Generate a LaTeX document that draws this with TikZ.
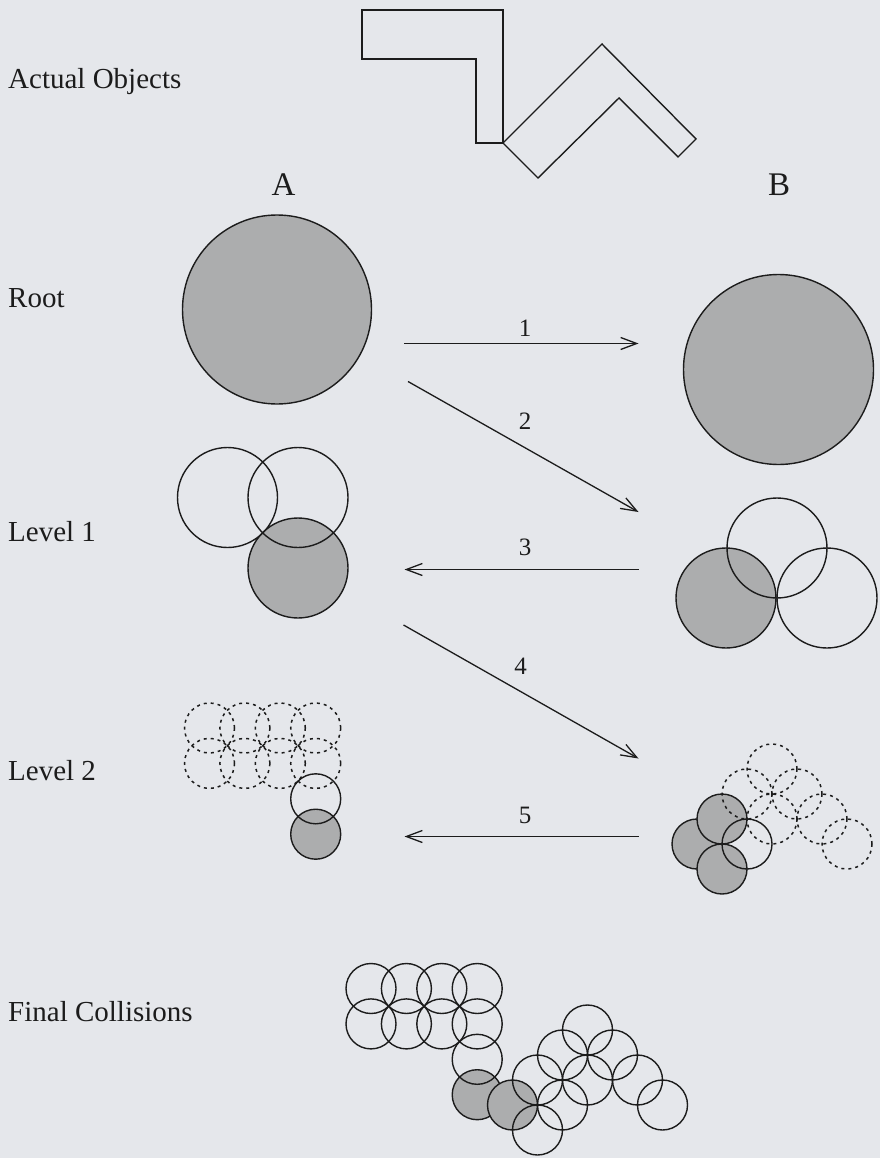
\documentclass[tikz,border=0pt]{standalone}
\usepackage{fontspec}
\setmainfont{Liberation Serif}
\usetikzlibrary{arrows.meta}
\definecolor{bgc}{RGB}{229,231,235}
\definecolor{ink}{RGB}{28,28,28}
\definecolor{shade}{RGB}{172,173,174}
\begin{document}
\begin{tikzpicture}[x=1pt,y=-1pt,
  circ/.style={circle, draw=ink, line width=1.4pt, inner sep=0pt, outer sep=0pt},
  dcirc/.style={circ, line width=1.5pt, dash pattern=on 3pt off 4pt},
  gcirc/.style={circ, fill=shade},
  lbl/.style={anchor=base west, font=\fontsize{29}{34}\selectfont, text=ink, inner sep=0pt},
  colh/.style={anchor=base, font=\fontsize{33}{38}\selectfont, text=ink, inner sep=0pt},
  num/.style={font=\fontsize{25}{30}\selectfont, text=ink, inner sep=0pt},
  arr/.style={draw=ink, line width=1.3pt, -{Straight Barb[length=16pt,width=12pt]}},
  obj/.style={draw=ink, line width=1.4pt, line join=miter}]
\fill[bgc] (0,0) rectangle (880,1158);
\useasboundingbox (0,0) rectangle (880,1158);

% labels
\node[lbl] (tact) at (8,88.5) {Actual Objects};
\node[lbl] (troot) at (8,307.5) {Root};
\node[lbl] (tl1) at (8,541.5) {Level 1};
\node[lbl] (tl2) at (8,780.5) {Level 2};
\node[lbl] (tfin) at (8,1021.5) {Final Collisions};
\node[colh] (hA) at (283.5,195.5) {A};
\node[colh] (hB) at (779,195.5) {B};

% actual objects
\draw[obj] (362,10) -- (503,10) -- (503,143) -- (476,143) -- (476,59) -- (362,59) -- cycle;
\draw[obj] (503,143) -- (602,44) -- (696,139) -- (678,157) -- (619,98) -- (538,178) -- cycle;

% root
\node[gcirc, minimum size=189pt] (rA) at (277,309.5) {};
\node[gcirc, minimum size=190pt] (rB) at (778.5,369.5) {};

% level 1 A
\node[gcirc, minimum size=100pt] (a1c) at (298,568) {};
\node[circ, minimum size=100pt] (a1a) at (227.5,497.5) {};
\node[circ, minimum size=100pt] (a1b) at (298,497.5) {};
% level 1 B
\node[gcirc, minimum size=100pt] (b1a) at (726,598) {};
\node[circ, minimum size=100pt] (b1b) at (777,548) {};
\node[circ, minimum size=100pt] (b1c) at (827,598) {};

% level 2 A
\node[gcirc, minimum size=50pt] (a2g) at ({209.5+35.4*3},{728+35.4*3}) {};
\foreach \i in {0,...,3}{
  \foreach \j in {0,1}{
    \node[dcirc, minimum size=50pt] (a2d\i\j) at ({209.5+35.4*\i},{728+35.4*\j}) {};
  }
}
\node[circ, minimum size=50pt] (a2s) at ({209.5+35.4*3},{728+35.4*2}) {};

% level 2 B
\foreach \i/\j in {0/0,1/0,0/1}{
  \node[gcirc, minimum size=50pt] (b2g\i\j) at ({697+25*\i+25*\j},{844-25*\i+25*\j}) {};
}
\node[circ, minimum size=50pt] (b2s) at ({697+50},844) {};
\foreach \i/\j in {2/0,3/0,2/1,3/1,3/2,3/3}{
  \node[dcirc, minimum size=50pt] (b2d\i\j) at ({697+25*\i+25*\j},{844-25*\i+25*\j}) {};
}

% final collisions
\node[gcirc, minimum size=50pt] (fAg) at ({371+35.4*3},{988.5+35.4*3}) {};
\node[gcirc, minimum size=50pt] (fBg) at (512.5,1105) {};
\foreach \i in {0,...,3}{
  \foreach \j in {0,1}{
    \node[circ, minimum size=50pt] (fA\i\j) at ({371+35.4*\i},{988.5+35.4*\j}) {};
  }
}
\node[circ, minimum size=50pt] (fA32) at ({371+35.4*3},{988.5+35.4*2}) {};
\foreach \i/\j in {1/0,2/0,3/0,0/1,1/1,2/1,3/1,3/2,3/3}{
  \node[circ, minimum size=50pt] (fB\i\j) at ({512.5+25*\i+25*\j},{1105-25*\i+25*\j}) {};
}

% arrows
\coordinate (p1s) at (404,343.5);  \coordinate (p1e) at (638.5,343.5);
\coordinate (p2s) at (408,381.5);  \coordinate (p2e) at (638.5,512);
\coordinate (p3s) at (638.5,569.5); \coordinate (p3e) at (404.5,569.5);
\coordinate (p4s) at (403.5,625);  \coordinate (p4e) at (638.5,758.5);
\coordinate (p5s) at (638.5,836.5); \coordinate (p5e) at (404.5,836.5);
\draw[arr] (p1s) -- (p1e);
\draw[arr] (p2s) -- (p2e);
\draw[arr] (p3s) -- (p3e);
\draw[arr] (p4s) -- (p4e);
\draw[arr] (p5s) -- (p5e);
\node[num] (n1) at (525,328) {1};
\node[num] (n2) at (525,421.5) {2};
\node[num] (n3) at (525,547) {3};
\node[num] (n4) at (520.5,666.5) {4};
\node[num] (n5) at (525,815) {5};
\end{tikzpicture}
\end{document}
